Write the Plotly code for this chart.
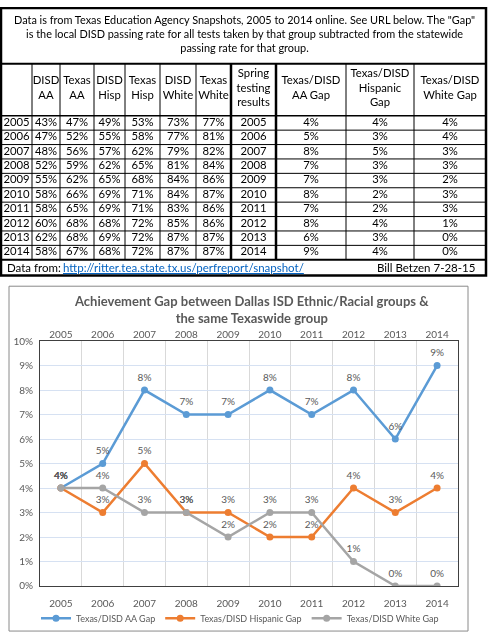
import plotly.graph_objects as go

years = [2005, 2006, 2007, 2008, 2009, 2010, 2011, 2012, 2013, 2014]
disd_aa = [43, 47, 48, 52, 55, 58, 58, 60, 62, 58]
texas_aa = [47, 52, 56, 59, 62, 66, 65, 68, 68, 67]
disd_hisp = [49, 55, 57, 62, 65, 69, 69, 68, 69, 68]
texas_hisp = [53, 58, 62, 65, 68, 71, 71, 72, 72, 72]
disd_white = [73, 77, 79, 81, 84, 84, 83, 85, 87, 87]
texas_white = [77, 81, 82, 84, 86, 87, 86, 86, 87, 87]
aa_gap = [4, 5, 8, 7, 7, 8, 7, 8, 6, 9]
hisp_gap = [4, 3, 5, 3, 3, 2, 2, 4, 3, 4]
white_gap = [4, 4, 3, 3, 2, 3, 3, 1, 0, 0]

header_labels = ["", "DISD<br>AA", "Texas<br>AA", "DISD<br>Hisp", "Texas<br>Hisp",
                 "DISD<br>White", "Texas<br>White", "Spring<br>testing<br>results",
                 "Texas/DISD<br>AA Gap", "Texas/DISD<br>Hispanic<br>Gap", "Texas/DISD<br>White Gap"]
table_note = ('Data is from Texas Education Agency Snapshots, 2005 to 2014 online. See URL below. The "Gap"<br>'
              'is the local DISD passing rate for all tests taken by that group subtracted from the statewide<br>'
              'passing rate for that group.')
source_label = "Data from:"
source_url = "http://ritter.tea.state.tx.us/perfreport/snapshot/"
credit = "Bill Betzen 7-28-15"
chart_title = "<b>Achievement Gap between Dallas ISD Ethnic/Racial groups &<br>the same Texaswide group</b>"
series_names = ["Texas/DISD AA Gap", "Texas/DISD Hispanic Gap", "Texas/DISD White Gap"]
series_values = [aa_gap, hisp_gap, white_gap]
series_colors = ["#5B9BD5", "#ED7D31", "#A5A5A5"]

# ---- layout constants (pixels) ----
W, H = 488, 640
FONT = "Lato"
GREY_TXT = "#595959"
col_edges = [1, 32, 60, 94, 125, 160, 196, 231, 276, 346, 414, 486]
head_top, body_top, row_h = 58, 111, 14.7
foot_top = body_top + row_h * len(years)
foot_bot = 274

fig = go.Figure()

# ---- table text, drawn on a pixel-scaled helper axis pair ----
table_cols = [years, disd_aa, texas_aa, disd_hisp, texas_hisp, disd_white, texas_white,
              years, aa_gap, hisp_gap, white_gap]
tx, ty, tt = [], [], []
for c, col in enumerate(table_cols):
    cx = (col_edges[c] + col_edges[c + 1]) / 2
    tx.append(cx)
    ty.append((head_top + body_top) / 2 - 1)
    tt.append(header_labels[c])
    for r, v in enumerate(col):
        tx.append(cx)
        ty.append(body_top + row_h * (r + 0.5))
        tt.append(str(v) if col is years else f"{v}%")
fig.add_trace(go.Scatter(x=tx, y=ty, text=tt, mode="text", xaxis="x2", yaxis="y2",
                         textfont=dict(family=FONT, size=11.3, color="black"),
                         showlegend=False, hoverinfo="skip"))

shapes = []
def line(x0, y0, x1, y1, w=1, color="black"):
    shapes.append(dict(type="line", xref="x2", yref="y2", x0=x0, y0=y0, x1=x1, y1=y1,
                       line=dict(color=color, width=w)))

for r in range(1, len(years)):
    line(col_edges[0], body_top + row_h * r, col_edges[-1], body_top + row_h * r, 1)
for i, e in enumerate(col_edges[1:-1], start=1):
    line(e, head_top, e, foot_top, 2.5 if i in (7, 8) else 1)
line(col_edges[0], head_top, col_edges[-1], head_top, 2)
line(col_edges[0], body_top, col_edges[-1], body_top, 1.5)
line(col_edges[0], foot_top, col_edges[-1], foot_top, 2)
shapes.append(dict(type="rect", xref="x2", yref="y2", x0=col_edges[0], y0=1,
                   x1=col_edges[-1], y1=foot_bot, line=dict(color="black", width=2.5)))
# chart frame
shapes.append(dict(type="rect", xref="x2", yref="y2", x0=9, y0=285, x1=468, y1=637,
                   line=dict(color="#8A8A8A", width=1), layer="below"))

foot_y = (foot_top + foot_bot) / 2
annotations = [
    dict(xref="x2", yref="y2", x=W / 2, y=head_top / 2 - 2, text=table_note, showarrow=False,
         font=dict(family=FONT, size=10.9, color="black")),
    dict(xref="x2", yref="y2", x=5, y=foot_y, text=source_label, showarrow=False,
         xanchor="left", font=dict(family=FONT, size=11.5, color="black")),
    dict(xref="x2", yref="y2", x=61, y=foot_y, text=f"<u>{source_url}</u>", showarrow=False,
         xanchor="left", font=dict(family=FONT, size=11.5, color="#0563C1")),
    dict(xref="x2", yref="y2", x=375, y=foot_y, text=credit, showarrow=False,
         xanchor="left", font=dict(family=FONT, size=11.5, color="black")),
    dict(xref="x2", yref="y2", x=251, y=309, text=chart_title, showarrow=False,
         font=dict(family=FONT, size=13, color=GREY_TXT)),
]

# ---- the line chart ----
for name, vals, color in zip(series_names, series_values, series_colors):
    fig.add_trace(go.Scatter(x=years, y=vals, name=name, mode="lines+markers",
                             line=dict(color=color, width=2.5),
                             marker=dict(color=color, size=7)))
for vals in series_values:
    fig.add_trace(go.Scatter(x=years, y=vals, mode="markers+text", text=[f"{v}%" for v in vals],
                             textposition="top center", showlegend=False, hoverinfo="skip",
                             marker=dict(size=9, opacity=0),
                             textfont=dict(family=FONT, size=10, color=GREY_TXT)))
# carrier for the top year labels
fig.add_trace(go.Scatter(x=years, y=aa_gap, xaxis="x3", mode="markers", opacity=0,
                         showlegend=False, hoverinfo="skip"))

tick_font = dict(family=FONT, size=10, color=GREY_TXT)
x_dom = [40 / W, 458 / W]
fig.update_layout(
    width=W, height=H, margin=dict(l=0, r=0, t=0, b=0),
    paper_bgcolor="white", plot_bgcolor="rgba(0,0,0,0)",
    font=dict(family=FONT),
    shapes=shapes, annotations=annotations,
    xaxis=dict(domain=x_dom, range=[years[0] - 0.5, years[-1] + 0.5], tickvals=years,
               showgrid=False, zeroline=False, showline=True, mirror=True,
               linecolor="#404040", linewidth=1, tickfont=tick_font, ticklabelstandoff=8,
               minor=dict(tickvals=[y + 0.5 for y in years[:-1]], showgrid=True,
                          gridcolor="#D9D9D9", gridwidth=1)),
    xaxis3=dict(overlaying="x", side="top", matches="x", tickvals=years, showgrid=False,
                zeroline=False, showline=False, tickfont=tick_font, anchor="y"),
    yaxis=dict(domain=[1 - 591 / H, 1 - 341 / H], range=[0, 10], dtick=1, ticksuffix="%",
               gridcolor="#D6E1F2", zeroline=False, showline=True, mirror=True,
               linecolor="#404040", linewidth=1, tickfont=tick_font, ticklabelstandoff=4),
    xaxis2=dict(domain=[0, 1], range=[0, W], visible=False, fixedrange=True),
    yaxis2=dict(domain=[0, 1], range=[H, 0], visible=False, fixedrange=True, anchor="x2"),
    legend=dict(orientation="h", x=240 / W, xanchor="center", y=1 - 624 / H, yanchor="middle",
                font=dict(family=FONT, size=9, color=GREY_TXT), itemwidth=30,
                bgcolor="rgba(0,0,0,0)"),
    showlegend=True,
)

fig.write_html("out.html", config={"displayModeBar": False},
               post_script="document.body.style.margin='0';")
